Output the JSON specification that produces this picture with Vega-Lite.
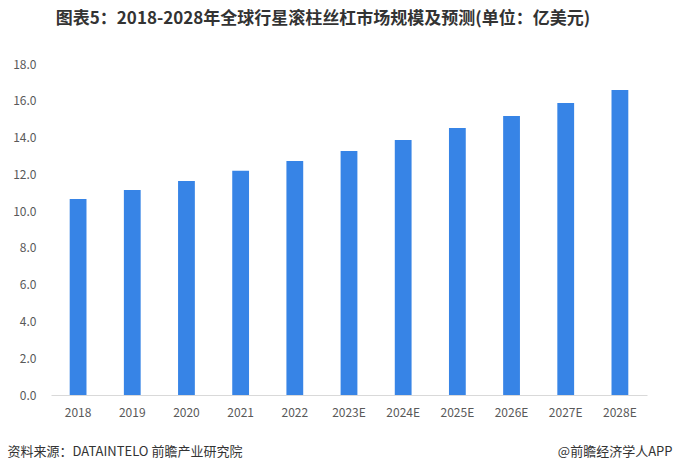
{
  "$schema": "https://vega.github.io/schema/vega-lite/v6.json",
  "autosize": "none",
  "width": 596,
  "height": 331,
  "padding": {"left": 51, "top": 64, "right": 26, "bottom": 77},
  "background": "white",
  "config": {
    "view": {"stroke": null},
    "font": "Noto Sans CJK SC"
  },
  "title": {
    "text": "图表5：2018-2028年全球行星滚柱丝杠市场规模及预测(单位：亿美元)",
    "font": "Noto Sans CJK SC",
    "fontSize": 17,
    "fontWeight": "bold",
    "color": "#333333",
    "anchor": "middle",
    "dx": -26,
    "offset": 30
  },
  "data": {
    "values": [
      {"year": "2018", "value": 10.66},
      {"year": "2019", "value": 11.15},
      {"year": "2020", "value": 11.64},
      {"year": "2021", "value": 12.2},
      {"year": "2022", "value": 12.72},
      {"year": "2023E", "value": 13.27},
      {"year": "2024E", "value": 13.87},
      {"year": "2025E", "value": 14.52},
      {"year": "2026E", "value": 15.17},
      {"year": "2027E", "value": 15.88},
      {"year": "2028E", "value": 16.59}
    ]
  },
  "mark": {"type": "bar", "color": "#3784E6"},
  "encoding": {
    "x": {
      "field": "year",
      "type": "ordinal",
      "sort": null,
      "scale": {"paddingInner": 0.69, "paddingOuter": 0.345},
      "axis": {
        "title": "资料来源：DATAINTELO 前瞻产业研究院",
        "titleFont": "Noto Sans CJK SC",
        "titleFontSize": 13,
        "titleFontWeight": "normal",
        "titleColor": "#333333",
        "titleAnchor": "start",
        "titleAlign": "left",
        "titleBaseline": "middle",
        "titleX": -44,
        "titleY": 56,
        "labelAngle": 0,
        "labelFontSize": 12,
        "labelColor": "#595959",
        "labelPadding": 12,
        "ticks": false,
        "domainColor": "#D9D9D9",
        "domainWidth": 1
      }
    },
    "y": {
      "field": "value",
      "type": "quantitative",
      "scale": {"domain": [0, 18]},
      "axis": {
        "values": [0, 2, 4, 6, 8, 10, 12, 14, 16, 18],
        "format": ".1f",
        "grid": false,
        "domain": false,
        "ticks": false,
        "labelFontSize": 12,
        "labelColor": "#595959",
        "labelPadding": 15,
        "title": "@前瞻经济学人APP",
        "titleFont": "Noto Sans CJK SC",
        "titleFontSize": 13,
        "titleFontWeight": "normal",
        "titleColor": "#333333",
        "titleAngle": 0,
        "titleAlign": "right",
        "titleBaseline": "middle",
        "titleX": 621,
        "titleY": 387
      }
    }
  }
}
